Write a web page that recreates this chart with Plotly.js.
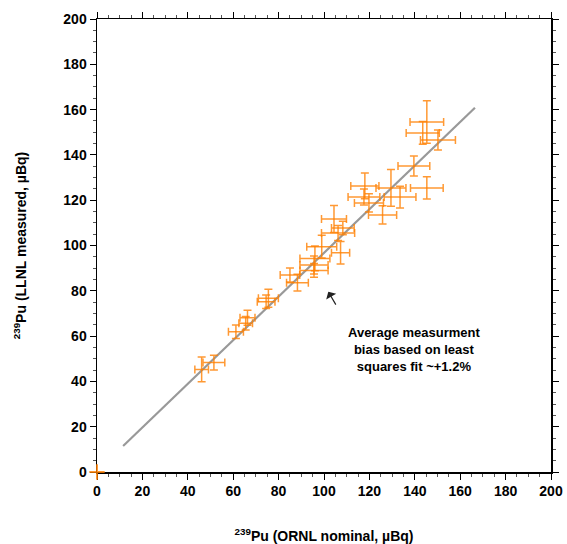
<!DOCTYPE html>
<html>
<head>
<meta charset="utf-8">
<script src="https://cdn.plot.ly/plotly-3.0.1.min.js"></script>
<style>html,body{margin:0;padding:0;background:#fff;}#chart{width:567px;height:544px;}</style>
</head>
<body>
<div id="chart"></div>
<script>
// ORNL nominal (x) vs LLNL measured (y), uBq, with 1-sigma uncertainties
const ornlNominal = [145.3, 143.5, 150.2, 139.6, 145.3, 129.5, 133.5, 118.0, 117.6, 119.8, 125.8, 104.4, 106.2, 108.3, 99.0, 107.3, 96.0, 95.6, 95.6, 85.0, 88.3, 75.5, 74.5, 66.3, 65.5, 61.2, 51.5, 46.1];
const llnlMeasured = [154.5, 149.7, 146.6, 135.1, 125.4, 125.4, 121.4, 126.3, 121.4, 118.8, 113.5, 111.7, 105.5, 107.7, 99.5, 96.8, 94.3, 91.4, 89.0, 87.0, 83.6, 76.7, 75.2, 68.1, 65.7, 61.9, 48.3, 45.3];
const ornlErr = [7.4, 7.3, 7.7, 7.0, 7.2, 6.6, 7.0, 6.2, 7.0, 6.4, 6.2, 5.5, 7.3, 5.0, 6.6, 4.0, 6.6, 6.2, 6.2, 4.3, 4.8, 4.4, 3.9, 3.3, 3.0, 3.3, 4.8, 3.0];
const llnlErr = [9.4, 5.0, 4.4, 4.4, 4.9, 8.1, 4.8, 5.7, 3.5, 4.0, 4.0, 6.0, 3.3, 3.0, 5.0, 5.0, 5.5, 4.0, 3.0, 3.1, 3.7, 4.0, 3.0, 3.3, 3.0, 3.0, 3.3, 5.5];
// blank / zero sample drawn at the origin
const originX = [0];
const originY = [0];
// least squares fit line endpoints
const fitX = [11.5, 166.5];
const fitY = [11.5, 160.8];
const tickVals = [0, 20, 40, 60, 80, 100, 120, 140, 160, 180, 200];

const errColor = 'rgba(255,128,0,0.8)';
const font = {family: 'Liberation Sans, Arial, sans-serif', size: 14, color: '#000'};

const traces = [
  {
    x: fitX, y: fitY, type: 'scatter', mode: 'lines',
    line: {color: '#999999', width: 2.2}, hoverinfo: 'skip'
  },
  {
    x: ornlNominal, y: llnlMeasured, type: 'scatter', mode: 'markers',
    marker: {size: 2, color: 'rgba(0,0,0,0)'},
    error_x: {type: 'data', array: ornlErr, visible: true, color: errColor, thickness: 1.5, width: 4},
    error_y: {type: 'data', array: llnlErr, visible: true, color: errColor, thickness: 1.5, width: 4}
  },
  {
    x: originX, y: originY, type: 'scatter', mode: 'markers', cliponaxis: false,
    marker: {symbol: 'cross-thin-open', size: 11, color: errColor, line: {color: errColor, width: 2}}
  }
];

function axis(title) {
  return {
    range: [0, 200], tickvals: tickVals, ticktext: tickVals.map(String),
    ticks: 'outside', ticklen: 6, tickwidth: 1, tickcolor: '#000',
    minor: {dtick: 5, ticks: 'outside', ticklen: 3, tickwidth: 1, tickcolor: '#555'},
    showline: true, linecolor: '#000', linewidth: 1.5, mirror: 'allticks',
    showgrid: false, zeroline: false, layer: 'below traces',
    tickfont: {family: font.family, size: 14, color: '#000', weight: 'bold'},
    title: {text: title, font: {family: font.family, size: 14, color: '#000', weight: 'bold'}}
  };
}

const xa = axis('<sup>239</sup>Pu (ORNL nominal, \u00b5Bq)');
xa.title.standoff = 36;
const ya = axis('<sup>239</sup>Pu (LLNL measured, \u00b5Bq)');
ya.title.standoff = 33;

const layout = {
  width: 567, height: 544,
  margin: {l: 97, r: 16, t: 19, b: 72},
  paper_bgcolor: '#fff', plot_bgcolor: '#fff',
  showlegend: false,
  font: font,
  xaxis: xa, yaxis: ya,
  annotations: [
    {
      x: 101.9, y: 79.6, xref: 'x', yref: 'y',
      ax: 11, ay: 19, axref: 'pixel', ayref: 'pixel',
      showarrow: true, arrowhead: 1, arrowsize: 1.6, arrowwidth: 1.2, arrowcolor: '#222',
      text: ' '
    },
    {
      x: 139.5, y: 54.0, xref: 'x', yref: 'y',
      text: '<b>Average measurment<br>bias based on least<br>squares fit ~+1.2%</b>',
      showarrow: false, align: 'center',
      font: {family: font.family, size: 13, color: '#000'}
    }
  ]
};

Plotly.newPlot('chart', traces, layout, {displayModeBar: false, staticPlot: true});
</script>
</body>
</html>
